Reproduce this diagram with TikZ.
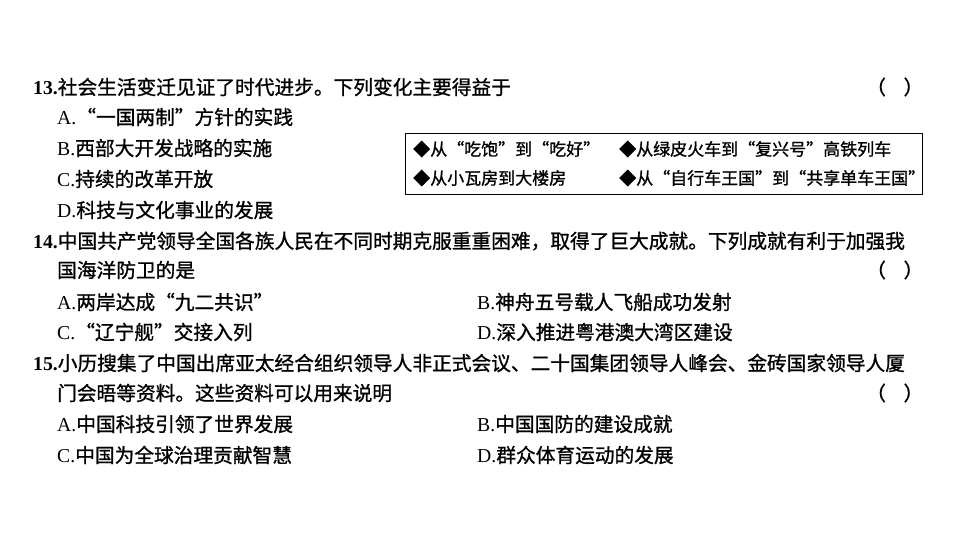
\documentclass[tikz,border=0pt]{standalone}
\usepackage{fontspec}
\setmainfont{Liberation Serif}
\newfontfamily\cjk[FakeBold=1]{Noto Sans CJK SC}
\begin{document}
\begin{tikzpicture}[x=1pt,y=-1pt,
  txt/.style={anchor=west,inner sep=0pt,font=\fontsize{19.7}{22}\selectfont},
  par/.style={txt},
  mat/.style={txt,font=\fontsize{17}{20}\selectfont},
  box/.style={draw,line width=0.8pt}]
\useasboundingbox (0,0) rectangle (960,540);
% question 13
\node[txt] (q13) at (33,87) {\textbf{13.}{\cjk 社会生活变迁见证了时代进步。下列变化主要得益于}};
\node[par] (p13) at (866,87) {{\cjk （\hspace{0.9em}）}};
\node[txt] (a13) at (57,117) {A.{\cjk “一国两制”方针的实践}};
\node[txt] (b13) at (57,148) {B.{\cjk 西部大开发战略的实施}};
\node[txt] (c13) at (57,179) {C.{\cjk 持续的改革开放}};
\node[txt] (d13) at (57,210) {D.{\cjk 科技与文化事业的发展}};
\draw[box] (405,133) rectangle (922,194);
\node[mat] (m1) at (413,149) {{\cjk ◆从“吃饱”到“吃好”}};
\node[mat] (m2) at (619,149) {{\cjk ◆从绿皮火车到“复兴号”高铁列车}};
\node[mat] (m3) at (413,178) {{\cjk ◆从小瓦房到大楼房}};
\node[mat] (m4) at (619,178) {{\cjk ◆从“自行车王国”到“共享单车王国”}};
% question 14
\node[txt] (q14) at (33,241) {\textbf{14.}{\cjk 中国共产党领导全国各族人民在不同时期克服重重困难，取得了巨大成就。下列成就有利于加强我}};
\node[txt] (q14b) at (57,270) {{\cjk 国海洋防卫的是}};
\node[par] (p14) at (866,270) {{\cjk （\hspace{0.9em}）}};
\node[txt] (a14) at (57,302) {A.{\cjk 两岸达成“九二共识”}};
\node[txt] (b14) at (477,302) {B.{\cjk 神舟五号载人飞船成功发射}};
\node[txt] (c14) at (57,332) {C.{\cjk “辽宁舰”交接入列}};
\node[txt] (d14) at (477,332) {D.{\cjk 深入推进粤港澳大湾区建设}};
% question 15
\node[txt] (q15) at (33,363) {\textbf{15.}{\cjk 小历搜集了中国出席亚太经合组织领导人非正式会议、二十国集团领导人峰会、金砖国家领导人厦}};
\node[txt] (q15b) at (57,393) {{\cjk 门会晤等资料。这些资料可以用来说明}};
\node[par] (p15) at (866,393) {{\cjk （\hspace{0.9em}）}};
\node[txt] (a15) at (57,424) {A.{\cjk 中国科技引领了世界发展}};
\node[txt] (b15) at (477,424) {B.{\cjk 中国国防的建设成就}};
\node[txt] (c15) at (57,455) {C.{\cjk 中国为全球治理贡献智慧}};
\node[txt] (d15) at (477,455) {D.{\cjk 群众体育运动的发展}};
\end{tikzpicture}
\end{document}
